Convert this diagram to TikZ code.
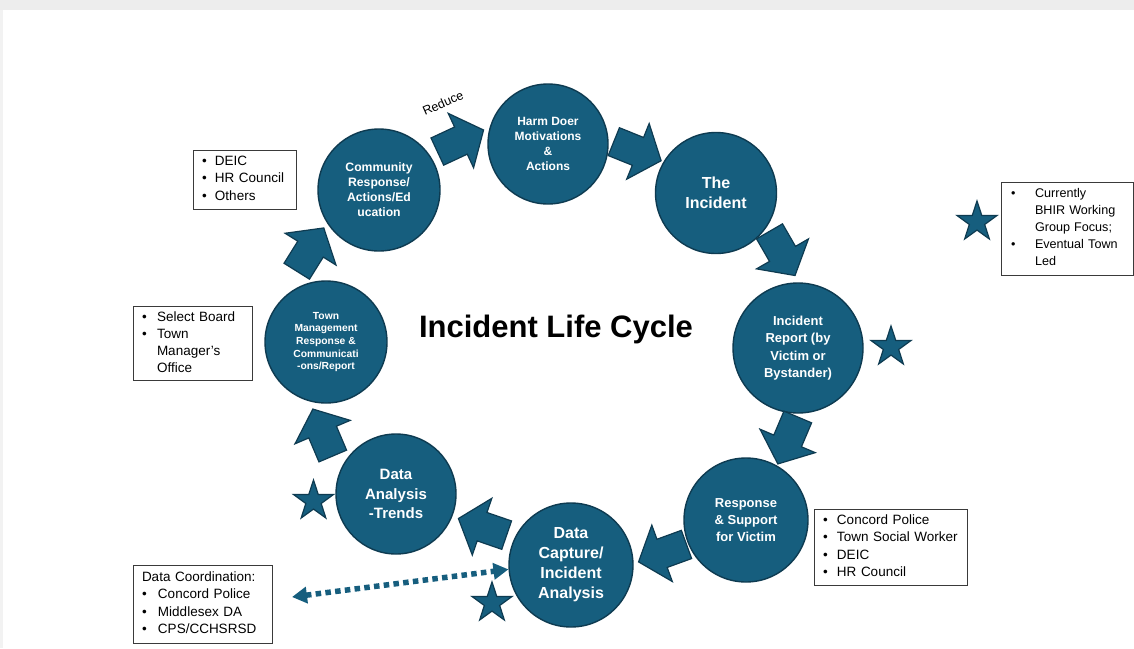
\documentclass[tikz,border=0pt]{standalone}
\usepackage{fontspec}
\setmainfont{Liberation Sans}
\usetikzlibrary{shapes.geometric,arrows.meta,calc}

\definecolor{cycleblue}{HTML}{165E7E}
\definecolor{cycleedge}{HTML}{0E3B51}
\definecolor{boxline}{HTML}{3A3A3A}
\definecolor{topband}{HTML}{EDEDED}

\tikzset{
  stage/.style={circle, fill=cycleblue, draw=cycleedge, line width=1.4pt,
    minimum size=122pt, inner sep=0pt, text=white, align=center},
  listbox/.style={draw=boxline, line width=1pt, fill=white, inner xsep=9pt,
    inner ysep=2pt, align=left, font=\fontsize{13.5}{17.3}\selectfont},
  starshape/.style={star, star points=5, star point ratio=2.6, minimum size=42pt,
    inner sep=0pt, fill=cycleblue, draw=cycleedge, line width=1.2pt},
  dotlink/.style={draw=cycleblue, line width=5.5pt, dash pattern=on 5.5pt off 4.3pt,
    {Triangle[length=15pt,width=16pt]}-{Triangle[length=15pt,width=16pt]}},
  pics/flow/.style={code={
    \fill[cycleblue, draw=cycleedge, line width=1.2pt, line join=miter]
      (-25,-15) -- (1,-15) -- (1,-30) -- (26,0) -- (1,30) -- (1,15) -- (-25,15) -- cycle;}}
}

\begin{document}
\begin{tikzpicture}[x=1pt,y=-1pt]
  % page and window frame
  \fill[white] (0,0) rectangle (1134,648);
  \useasboundingbox (0,0) rectangle (1134,648);
  \fill[topband] (0,0) rectangle (1134,10);
  \fill[gray!10] (0,10) rectangle (3,648);

  % stages of the cycle
  \node[stage, minimum size=120pt, font=\fontsize{12}{15}\selectfont\bfseries] (harm) at (548,144)
    {Harm Doer\\Motivations\\\&\\Actions};
  \node[stage, minimum size=121pt, font=\fontsize{16}{20}\selectfont\bfseries] (incident) at (716,193)
    {The\\Incident};
  \node[stage, minimum size=130pt, font=\fontsize{13}{17.5}\selectfont\bfseries] (report) at (798,348)
    {Incident\\Report (by\\Victim or\\Bystander)};
  \node[stage, minimum size=124pt, font=\fontsize{13}{17}\selectfont\bfseries] (support) at (746,520)
    {Response\\\& Support\\for Victim};
  \node[stage, minimum size=124pt, font=\fontsize{16}{20}\selectfont\bfseries] (capture) at (571,565)
    {Data\\Capture/\\Incident\\Analysis};
  \node[stage, minimum size=120pt, font=\fontsize{15}{19.5}\selectfont\bfseries] (analysis) at (396,494)
    {Data\\Analysis\\-Trends};
  \node[stage, font=\fontsize{10.3}{12.7}\selectfont\bfseries] (town) at (326,342)
    {Town\\Management\\Response \&\\Communicati\\-ons/Report};
  \node[stage, font=\fontsize{12.2}{15}\selectfont\bfseries] (community) at (379,190)
    {Community\\Response/\\Actions/Ed\\ucation};

  % block arrows between the stages
  \pic[rotate=25]  (a1) at (460,141) {flow};
  \pic[rotate=-22] (a2) at (637,151) {flow};
  \pic[rotate=-60] (a3) at (782,253) {flow};
  \pic[rotate=-113] (a4) at (788,440) {flow};
  \pic[rotate=200] (a5) at (663,553) {flow};
  \pic[rotate=161] (a6) at (483,527) {flow};
  \pic[rotate=113] (a7) at (323,433) {flow};
  \pic[rotate=58]  (a8) at (310,250) {flow};

  \node[rotate=24, font=\fontsize{12.5}{14}\selectfont] (reduce) at (443,103) {Reduce};

  % title
  \node[font=\fontsize{31}{34}\selectfont\bfseries] (title) at (556,329) {Incident Life Cycle};

  % stars marking current focus
  \node[starshape] (star1) at (891,347) {};
  \node[starshape] (star2) at (313.5,501) {};
  \node[starshape] (star3) at (492,603) {};
  \node[starshape] (star4) at (977,222) {};

  % lists of participants
  \node[listbox, text width=85pt, minimum height=59pt] (deicbox) at (244.5,179.5)
    {\begin{tabular}{@{}p{13pt}@{}l@{}}
      \textbullet & DEIC\\ \textbullet & HR Council\\ \textbullet & Others
     \end{tabular}};
  \node[listbox, text width=101pt, minimum height=73pt] (boardbox) at (192.5,343.5)
    {\begin{tabular}{@{}p{15pt}@{}l@{}}
      \textbullet & Select Board\\ \textbullet & Town\\ & Manager’s\\ & Office
     \end{tabular}};
  \node[listbox, text width=112pt, inner xsep=10pt, minimum height=93pt,
        font=\fontsize{12.6}{17}\selectfont] (focusbox) at (1067,228.5)
    {\begin{tabular}{@{}p{24pt}@{}l@{}}
      \textbullet & Currently\\ & BHIR Working\\ & Group Focus;\\
      \textbullet & Eventual Town\\ & Led
     \end{tabular}};
  \node[listbox, text width=135pt, minimum height=76pt] (supportbox) at (890.5,547)
    {\begin{tabular}{@{}p{14pt}@{}l@{}}
      \textbullet & Concord Police\\ \textbullet & Town Social Worker\\
      \textbullet & DEIC\\ \textbullet & HR Council
     \end{tabular}};
  \node[listbox, text width=121pt, minimum height=78pt] (coordbox) at (202.5,604)
    {\begin{tabular}{@{}p{16pt}@{}l@{}}
      \multicolumn{2}{@{}l@{}}{Data Coordination:}\\
      \textbullet & Concord Police\\ \textbullet & Middlesex DA\\
      \textbullet & CPS/CCHSRSD
     \end{tabular}};

  % data exchange link
  \coordinate (coordend) at (292,597);
  \draw[dotlink] (coordend) -- (capture.184);
\end{tikzpicture}
\end{document}
